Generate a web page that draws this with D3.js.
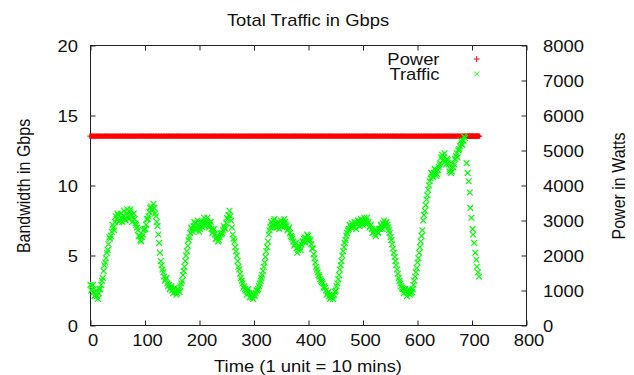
<!DOCTYPE html>
<html>
<head>
<meta charset="utf-8">
<script src="https://cdn.jsdelivr.net/npm/d3@7"></script>
<style>
  html, body { margin: 0; padding: 0; background: #fff; }
  svg { display: block; }
  text { font-family: "Liberation Sans", Arial, sans-serif; font-size: 16px; fill: #111; }
</style>
</head>
<body>
<svg id="chart" width="634" height="375"></svg>
<script>
// ---- Data ----
const chartTitle = "Total Traffic in Gbps";
const xTitle = "Time (1 unit = 10 mins)";
const yTitle = "Bandwidth in Gbps";
const y2Title = "Power in Watts";
const seriesNames = ["Power", "Traffic"];

const xTicks = [0, 100, 200, 300, 400, 500, 600, 700, 800];
const yTicks = [0, 5, 10, 15, 20];
const y2Ticks = [0, 1000, 2000, 3000, 4000, 5000, 6000, 7000, 8000];

// samples on the main time grid
const timeUnits = [
  0, 3, 6, 9, 12, 15, 18, 21, 24, 27,
  30, 33, 36, 39, 42, 45, 48, 51, 54, 57,
  60, 63, 66, 69, 72, 75, 78, 81, 84, 87,
  90, 93, 96, 99, 102, 105, 108, 111, 114, 117,
  120, 123, 126, 129, 132, 135, 138, 141, 144, 147,
  150, 153, 156, 159, 162, 165, 168, 171, 174, 177,
  180, 183, 186, 189, 192, 195, 198, 201, 204, 207,
  210, 213, 216, 219, 222, 225, 228, 231, 234, 237,
  240, 243, 246, 249, 252, 255, 258, 261, 264, 267,
  270, 273, 276, 279, 282, 285, 288, 291, 294, 297,
  300, 303, 306, 309, 312, 315, 318, 321, 324, 327,
  330, 333, 336, 339, 342, 345, 348, 351, 354, 357,
  360, 363, 366, 369, 372, 375, 378, 381, 384, 387,
  390, 393, 396, 399, 402, 405, 408, 411, 414, 417,
  420, 423, 426, 429, 432, 435, 438, 441, 444, 447,
  450, 453, 456, 459, 462, 465, 468, 471, 474, 477,
  480, 483, 486, 489, 492, 495, 498, 501, 504, 507,
  510, 513, 516, 519, 522, 525, 528, 531, 534, 537,
  540, 543, 546, 549, 552, 555, 558, 561, 564, 567,
  570, 573, 576, 579, 582, 585, 588, 591, 594, 597,
  600, 603, 606, 609, 612, 615, 618, 621, 624, 627,
  630, 633, 636, 639, 642, 645, 648, 651, 654, 657,
  660, 663, 666, 669, 672, 675, 678, 681, 684, 687,
  690, 692, 694, 696, 697, 699, 701, 702, 704, 706, 708, 709, 711, 713
];

const trafficGbps = [
  2.9, 2.6, 2.4, 2.2, 2.1, 2.3, 2.6, 3.2, 3.9, 4.5,
  5.2, 5.8, 6.2, 6.7, 7.0, 7.4, 7.6, 7.9, 7.5, 7.7,
  7.9, 7.6, 8.0, 7.8, 8.1, 7.9, 7.7, 7.6, 7.2, 6.8,
  6.4, 6.0, 6.5, 6.9, 7.2, 7.6, 8.1, 8.5, 8.3, 8.4,
  7.8, 7.1, 5.9, 4.6, 4.0, 3.5, 3.3, 3.0, 2.9, 2.7,
  2.5, 2.6, 2.4, 2.3, 2.5, 2.8, 3.2, 3.9, 4.6, 5.3,
  6.1, 6.6, 6.9, 7.1, 7.3, 7.0, 7.2, 6.9, 7.2, 7.4,
  7.1, 7.5, 7.3, 7.2, 6.9, 6.8, 6.5, 6.2, 6.0, 6.3,
  6.5, 6.8, 7.0, 7.3, 7.6, 8.2, 7.5, 6.5, 6.0, 5.3,
  4.6, 4.0, 3.4, 3.0, 2.8, 2.5, 2.4, 2.3, 2.1, 2.0,
  2.2, 2.3, 2.5, 2.8, 3.2, 3.6, 4.2, 4.9, 5.6, 6.5,
  7.0, 7.2, 7.5, 7.3, 7.0, 7.3, 7.1, 7.3, 7.2, 7.4,
  7.1, 6.9, 6.6, 6.3, 6.0, 5.8, 5.5, 5.4, 5.6, 5.8,
  6.0, 6.3, 6.2, 6.4, 6.0, 5.8, 5.5, 4.8, 4.2, 3.8,
  3.5, 3.2, 3.0, 2.8, 2.5, 2.3, 2.1, 2.0, 2.1, 2.2,
  2.5, 3.0, 3.6, 4.3, 5.0, 5.6, 6.1, 6.6, 6.9, 7.1,
  7.3, 7.0, 7.3, 7.2, 7.5, 7.2, 7.4, 7.5, 7.3, 7.7,
  7.4, 7.1, 6.9, 6.7, 6.5, 6.8, 6.6, 6.9, 7.1, 7.3,
  7.1, 7.4, 7.0, 6.6, 6.1, 5.5, 4.9, 4.3, 3.7, 3.2,
  2.8, 2.6, 2.5, 2.4, 2.3, 2.5, 2.3, 2.6, 3.2, 3.8,
  4.5, 5.2, 6.0, 6.8, 7.9, 8.6, 9.3, 10.0, 10.5, 10.8,
  10.9, 11.1, 10.8, 11.3, 11.6, 12.2, 12.0, 11.7, 11.9, 11.5,
  11.2, 11.0, 11.3, 11.9, 12.3, 12.5, 12.8, 13.0, 13.2, 13.4,
  11.6, 10.9, 10.3, 9.5, 8.4, 7.7, 6.9, 6.5, 5.9, 5.2, 4.7, 4.2, 3.8, 3.5
];

// in-between samples (the scatter is dense and noisy in the reference)
const timeUnitsMid = [
  1.5, 4.5, 7.5, 10.5, 13.5, 16.5, 19.5, 22.5, 25.5, 28.5,
  31.5, 34.5, 37.5, 40.5, 43.5, 46.5, 49.5, 52.5, 55.5, 58.5,
  61.5, 64.5, 67.5, 70.5, 73.5, 76.5, 79.5, 82.5, 85.5, 88.5,
  91.5, 94.5, 97.5, 100.5, 103.5, 106.5, 109.5, 112.5, 115.5, 118.5,
  121.5, 124.5, 127.5, 130.5, 133.5, 136.5, 139.5, 142.5, 145.5, 148.5,
  151.5, 154.5, 157.5, 160.5, 163.5, 166.5, 169.5, 172.5, 175.5, 178.5,
  181.5, 184.5, 187.5, 190.5, 193.5, 196.5, 199.5, 202.5, 205.5, 208.5,
  211.5, 214.5, 217.5, 220.5, 223.5, 226.5, 229.5, 232.5, 235.5, 238.5,
  241.5, 244.5, 247.5, 250.5, 253.5, 256.5, 259.5, 262.5, 265.5, 268.5,
  271.5, 274.5, 277.5, 280.5, 283.5, 286.5, 289.5, 292.5, 295.5, 298.5,
  301.5, 304.5, 307.5, 310.5, 313.5, 316.5, 319.5, 322.5, 325.5, 328.5,
  331.5, 334.5, 337.5, 340.5, 343.5, 346.5, 349.5, 352.5, 355.5, 358.5,
  361.5, 364.5, 367.5, 370.5, 373.5, 376.5, 379.5, 382.5, 385.5, 388.5,
  391.5, 394.5, 397.5, 400.5, 403.5, 406.5, 409.5, 412.5, 415.5, 418.5,
  421.5, 424.5, 427.5, 430.5, 433.5, 436.5, 439.5, 442.5, 445.5, 448.5,
  451.5, 454.5, 457.5, 460.5, 463.5, 466.5, 469.5, 472.5, 475.5, 478.5,
  481.5, 484.5, 487.5, 490.5, 493.5, 496.5, 499.5, 502.5, 505.5, 508.5,
  511.5, 514.5, 517.5, 520.5, 523.5, 526.5, 529.5, 532.5, 535.5, 538.5,
  541.5, 544.5, 547.5, 550.5, 553.5, 556.5, 559.5, 562.5, 565.5, 568.5,
  571.5, 574.5, 577.5, 580.5, 583.5, 586.5, 589.5, 592.5, 595.5, 598.5,
  601.5, 604.5, 607.5, 610.5, 613.5, 616.5, 619.5, 622.5, 625.5, 628.5,
  631.5, 634.5, 637.5, 640.5, 643.5, 646.5, 649.5, 652.5, 655.5, 658.5,
  661.5, 664.5, 667.5, 670.5, 673.5, 676.5, 679.5, 682.5, 685.5
];

const trafficGbpsMid = [
  2.5, 2.9, 2.1, 2.5, 1.9, 2.6, 2.9, 3.4, 4.3, 4.8,
  5.4, 6.3, 6.4, 7.2, 6.8, 7.8, 8.0, 7.4, 8.0, 7.4,
  8.2, 7.5, 8.3, 7.6, 8.3, 7.4, 8.0, 7.3, 7.0, 6.4,
  6.1, 6.3, 6.8, 6.9, 7.6, 7.8, 8.4, 8.2, 8.7, 8.0,
  7.4, 6.5, 5.2, 4.3, 3.8, 3.2, 3.4, 2.8, 2.6, 2.8,
  2.3, 2.7, 2.2, 2.6, 2.4, 3.0, 3.6, 4.2, 5.0, 5.7,
  6.3, 7.0, 6.7, 7.4, 6.8, 7.5, 6.7, 7.4, 7.0, 7.7,
  7.3, 7.7, 7.0, 7.4, 6.6, 6.9, 6.2, 6.4, 6.1, 6.6,
  6.6, 7.1, 6.9, 7.7, 7.9, 7.8, 7.0, 6.2, 5.6, 5.0,
  4.2, 3.7, 3.2, 2.7, 2.6, 2.2, 2.6, 2.0, 2.3, 1.9,
  2.1, 2.5, 2.6, 3.0, 3.4, 3.9, 4.5, 5.3, 6.0, 6.8,
  7.4, 7.0, 7.6, 7.0, 7.4, 6.9, 7.5, 7.0, 7.6, 7.2,
  6.8, 7.0, 6.4, 6.2, 5.7, 5.9, 5.2, 5.7, 5.4, 6.0,
  6.2, 5.9, 6.5, 6.2, 6.1, 5.5, 5.1, 4.5, 4.0, 3.6,
  3.3, 3.1, 2.7, 2.7, 2.2, 2.4, 1.9, 2.2, 1.9, 2.4,
  2.8, 3.3, 4.0, 4.6, 5.3, 5.9, 6.4, 6.8, 7.2, 7.0,
  7.1, 7.4, 6.9, 7.5, 7.1, 7.6, 7.2, 7.7, 7.5, 7.3,
  7.0, 7.2, 6.6, 6.8, 6.4, 6.7, 6.9, 7.2, 6.9, 7.5,
  7.3, 7.2, 6.8, 6.3, 5.8, 5.2, 4.6, 4.0, 3.4, 3.0,
  2.7, 2.3, 2.6, 2.1, 2.6, 2.2, 2.4, 2.9, 3.5, 4.1,
  4.8, 5.6, 6.4, 7.5, 8.2, 9.0, 9.7, 10.3, 10.9, 10.6,
  11.2, 10.7, 11.1, 11.5, 12.0, 11.8, 12.3, 11.5, 11.8, 11.0,
  10.9, 11.6, 11.5, 12.1, 12.0, 12.6, 13.2, 12.9, 13.5
];

const powerWatts = [
  5410, 5410, 5410, 5410, 5410, 5410, 5410, 5410, 5410, 5410,
  5410, 5410, 5410, 5410, 5410, 5410, 5410, 5410, 5410, 5410,
  5410, 5410, 5410, 5410, 5410, 5410, 5410, 5410, 5410, 5410,
  5410, 5410, 5410, 5410, 5410, 5410, 5410, 5410, 5410, 5410,
  5410, 5410, 5410, 5410, 5410, 5410, 5410, 5410, 5410, 5410,
  5410, 5410, 5410, 5410, 5410, 5410, 5410, 5410, 5410, 5410,
  5410, 5410, 5410, 5410, 5410, 5410, 5410, 5410, 5410, 5410,
  5410, 5410, 5410, 5410, 5410, 5410, 5410, 5410, 5410, 5410,
  5410, 5410, 5410, 5410, 5410, 5410, 5410, 5410, 5410, 5410,
  5410, 5410, 5410, 5410, 5410, 5410, 5410, 5410, 5410, 5410,
  5410, 5410, 5410, 5410, 5410, 5410, 5410, 5410, 5410, 5410,
  5410, 5410, 5410, 5410, 5410, 5410, 5410, 5410, 5410, 5410,
  5410, 5410, 5410, 5410, 5410, 5410, 5410, 5410, 5410, 5410,
  5410, 5410, 5410, 5410, 5410, 5410, 5410, 5410, 5410, 5410,
  5410, 5410, 5410, 5410, 5410, 5410, 5410, 5410, 5410, 5410,
  5410, 5410, 5410, 5410, 5410, 5410, 5410, 5410, 5410, 5410,
  5410, 5410, 5410, 5410, 5410, 5410, 5410, 5410, 5410, 5410,
  5410, 5410, 5410, 5410, 5410, 5410, 5410, 5410, 5410, 5410,
  5410, 5410, 5410, 5410, 5410, 5410, 5410, 5410, 5410, 5410,
  5410, 5410, 5410, 5410, 5410, 5410, 5410, 5410, 5410, 5410,
  5410, 5410, 5410, 5410, 5410, 5410, 5410, 5410, 5410, 5410,
  5410, 5410, 5410, 5410, 5410, 5410, 5410, 5410, 5410, 5410,
  5410, 5410, 5410, 5410, 5410, 5410, 5410, 5410, 5410, 5410,
  5410, 5410, 5410, 5410, 5410, 5410, 5410, 5410, 5410, 5410, 5410, 5410, 5410, 5410
];

// ---- Layout ----
const SX = 1.15; // horizontal stretch of the reference's text
const plot = { left: 90.5, right: 526.5, top: 45.5, bottom: 325.5 };
const colors = { power: "#ff0000", traffic: "#00ff00", axis: "#222" };

const svg = d3.select("#chart");

const x = d3.scaleLinear().domain([0, 800]).range([plot.left, plot.right]);
const y = d3.scaleLinear().domain([0, 20]).range([plot.bottom, plot.top]);
const y2 = d3.scaleLinear().domain([0, 8000]).range([plot.bottom, plot.top]);

function styleAxis(g) {
  g.select(".domain").remove();
  g.selectAll(".tick line").attr("stroke", colors.axis).attr("stroke-width", 1);
  g.selectAll(".tick text").attr("fill", "#111").style("font-size", "16px")
    .attr("font-family", null);
}

// bottom axis
const gx = svg.append("g").attr("transform", `translate(0,${plot.bottom})`)
  .call(d3.axisBottom(x).tickValues(xTicks).tickFormat(d3.format("d"))
    .tickSizeInner(-5).tickSizeOuter(0).tickPadding(9));
styleAxis(gx);
gx.selectAll(".tick text").attr("transform", `translate(2,0) scale(${SX},1)`);

// top axis (mirrored ticks)
const gxt = svg.append("g").attr("transform", `translate(0,${plot.top})`)
  .call(d3.axisTop(x).tickValues(xTicks).tickFormat("").tickSizeInner(-5).tickSizeOuter(0));
styleAxis(gxt);

// left axis
const gy = svg.append("g").attr("transform", `translate(${plot.left},0)`)
  .call(d3.axisLeft(y).tickValues(yTicks).tickFormat(d3.format("d"))
    .tickSizeInner(-5).tickSizeOuter(0).tickPadding(12.5));
styleAxis(gy);
gy.selectAll(".tick text").attr("x", -12.5 / SX).attr("dy", "0.37em")
  .attr("transform", `scale(${SX},1)`);

// right axis
const gy2 = svg.append("g").attr("transform", `translate(${plot.right},0)`)
  .call(d3.axisRight(y2).tickValues(y2Ticks).tickFormat(d3.format("d"))
    .tickSizeInner(-5).tickSizeOuter(0).tickPadding(16.5));
styleAxis(gy2);
gy2.selectAll(".tick text").attr("x", 16.5 / SX).attr("dy", "0.37em")
  .attr("transform", `scale(${SX},1)`);

// border
svg.append("rect")
  .attr("x", plot.left).attr("y", plot.top)
  .attr("width", plot.right - plot.left).attr("height", plot.bottom - plot.top)
  .attr("fill", "none").attr("stroke", colors.axis).attr("stroke-width", 1);

// ---- Series ----
const crossPath = "M-2.9,-2.9L2.9,2.9M-2.9,2.9L2.9,-2.9";

const powerData = timeUnits.map((t, i) => ({ t, v: powerWatts[i] }));
const trafficData = timeUnits.map((t, i) => ({ t, v: trafficGbps[i] }))
  .concat(timeUnitsMid.map((t, i) => ({ t, v: trafficGbpsMid[i] })))
  .sort((a, b) => a.t - b.t);

const gPower = svg.append("g");
// "+" markers: thin horizontal arm, vertical arm (dense -> solid band)
gPower.selectAll("path.h").data(powerData).join("path").attr("class", "h")
  .attr("d", "M-3.2,0H3.2")
  .attr("transform", d => `translate(${x(d.t)},${y2(d.v)})`)
  .attr("fill", "none").attr("stroke", colors.power).attr("stroke-width", 1);
gPower.selectAll("path.v").data(powerData).join("path").attr("class", "v")
  .attr("d", "M0,-2.6V2.6")
  .attr("transform", d => `translate(${x(d.t)},${y2(d.v)})`)
  .attr("fill", "none").attr("stroke", colors.power).attr("stroke-width", 2.4);

svg.append("g").selectAll("path").data(trafficData).join("path")
  .attr("d", crossPath)
  .attr("transform", d => `translate(${x(d.t)},${y(d.v)})`)
  .attr("fill", "none").attr("stroke", colors.traffic).attr("stroke-width", 1.2);

// ---- Legend ----
const legend = svg.append("g");
const legendItems = [
  { name: seriesNames[0], color: colors.power, path: "M-3,0H3M0,-3V3", base: 64.5, my: 59 },
  { name: seriesNames[1], color: colors.traffic, path: "M-2.5,-2.5L2.5,2.5M-2.5,2.5L2.5,-2.5", base: 80, my: 74 }
];
legendItems.forEach(it => {
  legend.append("text").attr("text-anchor", "end")
    .attr("transform", `translate(439.5,${it.base}) scale(${SX},1)`)
    .text(it.name);
  legend.append("path").attr("d", it.path)
    .attr("transform", `translate(476.7,${it.my})`)
    .attr("fill", "none").attr("stroke", it.color).attr("stroke-width", 1);
});

// ---- Titles ----
svg.append("text").attr("text-anchor", "middle")
  .attr("transform", `translate(308,26) scale(${SX},1)`).text(chartTitle);
svg.append("text").attr("text-anchor", "middle")
  .attr("transform", `translate(308,371.5) scale(${SX},1)`).text(xTitle);
svg.append("text").attr("text-anchor", "middle")
  .attr("transform", `translate(30,186) scale(${SX},1) rotate(-90)`).text(yTitle);
svg.append("text").attr("text-anchor", "middle")
  .attr("transform", `translate(625,186) scale(${SX},1) rotate(-90)`).text(y2Title);
</script>
</body>
</html>
